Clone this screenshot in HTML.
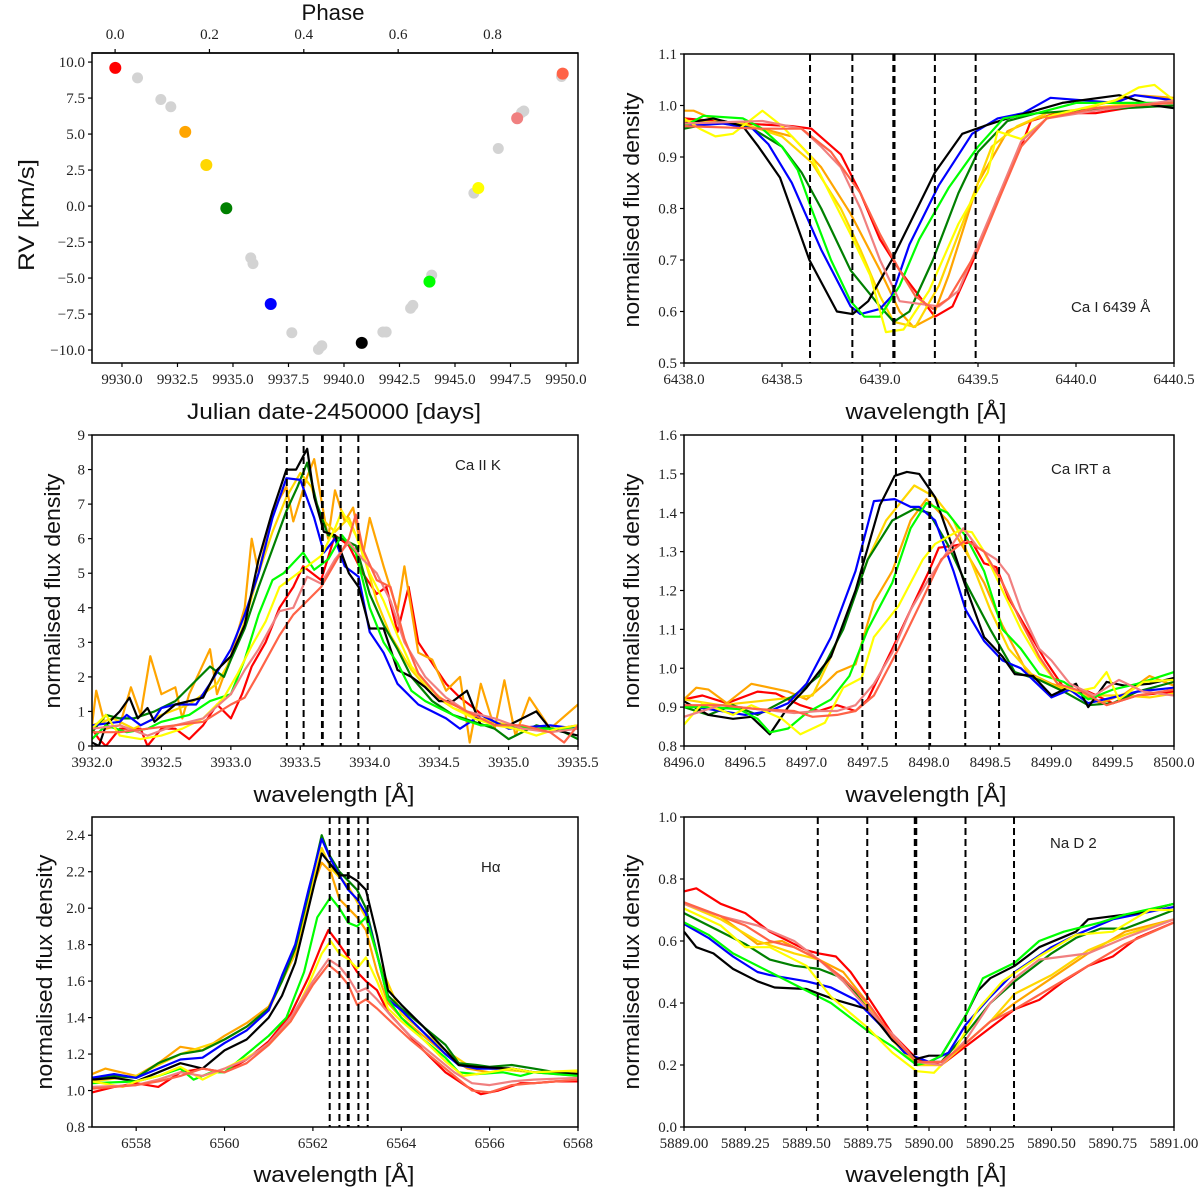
<!DOCTYPE html>
<html><head><meta charset="utf-8"><style>
html,body{margin:0;padding:0;background:#fff;}
svg{display:block;}
.tk{font-family:"Liberation Serif",serif;font-size:15px;fill:#222;}
.al{font-family:"Liberation Sans",sans-serif;font-size:22px;fill:#111;}
.pl{font-family:"Liberation Sans",sans-serif;font-size:15px;fill:#222;}
</style></head><body>
<svg id="fig" width="1200" height="1191" viewBox="0 0 1200 1191" xmlns="http://www.w3.org/2000/svg"></svg>
<script>
// ---- RV panel data ----
const rvGreyDates=[9930.7,9931.75,9932.2,9935.8,9935.9,9937.65,9938.85,9939.0,9941.75,9941.9,9943.0,9943.1,9943.95,9945.85,9946.95,9948.0,9948.1,9949.8];
const rvGreyVals=[8.9,7.4,6.9,-3.6,-4.0,-8.8,-9.95,-9.7,-8.75,-8.75,-7.1,-6.9,-4.8,0.9,4.0,6.5,6.6,9.0];
const specColors=["#ff0000","#ffa500","#ffd700","#008000","#0000ff","#000000","#00ff00","#ffff00","#f08080","#ff6347"];
const specNames=["red","orange","gold","green","blue","black","lime","yellow","lightcoral","tomato"];
const rvDates=[9929.7,9932.85,9933.8,9934.7,9936.7,9940.8,9943.85,9946.05,9947.8,9949.85];
const rvVals=[9.6,5.15,2.85,-0.15,-6.8,-9.5,-5.25,1.25,6.1,9.2];
const rvXTicks=[9930,9932.5,9935,9937.5,9940,9942.5,9945,9947.5,9950];
const rvYTicks=[-10,-7.5,-5,-2.5,0,2.5,5,7.5,10];
const phaseTicks=[0,0.2,0.4,0.6,0.8];

// ---- Ca I 6439 ----
const caI_red=[[6438,0.975],[6438.3,0.965],[6438.55,0.96],[6438.65,0.955],[6438.8,0.905],[6438.9,0.83],[6439.0,0.74],[6439.1,0.68],[6439.2,0.63],[6439.28,0.59],[6439.37,0.61],[6439.5,0.72],[6439.6,0.82],[6439.72,0.92],[6439.77,0.97],[6439.9,0.985],[6440.1,0.985],[6440.5,1.01]];
const caI_orange=[[6438,0.99],[6438.05,0.99],[6438.2,0.965],[6438.4,0.955],[6438.55,0.94],[6438.7,0.88],[6438.85,0.79],[6439.0,0.68],[6439.1,0.60],[6439.17,0.57],[6439.27,0.59],[6439.35,0.67],[6439.5,0.85],[6439.65,0.95],[6439.8,0.975],[6440,0.99],[6440.3,1.02],[6440.5,1.015]];
const caI_gold=[[6438,0.97],[6438.3,0.965],[6438.5,0.94],[6438.65,0.89],[6438.8,0.80],[6438.9,0.72],[6439.0,0.63],[6439.07,0.58],[6439.18,0.57],[6439.3,0.65],[6439.43,0.78],[6439.57,0.92],[6439.7,0.96],[6439.85,0.985],[6440.2,1.0],[6440.5,1.005]];
const caI_green=[[6438,0.955],[6438.2,0.97],[6438.35,0.955],[6438.5,0.92],[6438.6,0.87],[6438.7,0.80],[6438.85,0.68],[6439.0,0.61],[6439.07,0.58],[6439.15,0.60],[6439.27,0.70],[6439.4,0.83],[6439.5,0.91],[6439.65,0.97],[6439.8,0.985],[6440,0.99],[6440.5,1.0]];
const caI_blue=[[6438,0.96],[6438.2,0.965],[6438.35,0.955],[6438.43,0.925],[6438.55,0.85],[6438.7,0.72],[6438.85,0.61],[6438.9,0.595],[6439.0,0.605],[6439.06,0.63],[6439.15,0.73],[6439.3,0.845],[6439.47,0.945],[6439.6,0.975],[6439.73,0.985],[6439.87,1.015],[6440.2,1.005],[6440.3,1.02],[6440.5,1.01]];
const caI_black=[[6438,0.965],[6438.15,0.975],[6438.3,0.96],[6438.38,0.92],[6438.49,0.86],[6438.64,0.70],[6438.78,0.60],[6438.86,0.595],[6438.94,0.62],[6439.06,0.70],[6439.28,0.87],[6439.42,0.945],[6439.53,0.96],[6439.65,0.975],[6439.93,1.005],[6440.22,1.02],[6440.4,1.0],[6440.5,0.995]];
const caI_lime=[[6438,0.96],[6438.1,0.98],[6438.3,0.975],[6438.4,0.955],[6438.5,0.92],[6438.58,0.875],[6438.65,0.80],[6438.75,0.70],[6438.85,0.62],[6438.92,0.59],[6439.0,0.59],[6439.1,0.65],[6439.2,0.74],[6439.35,0.84],[6439.5,0.92],[6439.63,0.975],[6439.8,0.985],[6440,1.005],[6440.5,1.005]];
const caI_yellow=[[6438,0.975],[6438.08,0.955],[6438.16,0.94],[6438.25,0.945],[6438.4,0.99],[6438.5,0.96],[6438.65,0.90],[6438.85,0.75],[6438.95,0.67],[6439.03,0.56],[6439.12,0.565],[6439.25,0.64],[6439.4,0.77],[6439.55,0.87],[6439.6,0.95],[6439.72,0.935],[6439.87,0.98],[6440.2,1.01],[6440.32,1.035],[6440.4,1.04],[6440.5,1.01]];
const caI_lightcoral=[[6438,0.965],[6438.4,0.97],[6438.6,0.955],[6438.7,0.92],[6438.8,0.88],[6438.9,0.80],[6439.0,0.70],[6439.1,0.62],[6439.2,0.615],[6439.3,0.61],[6439.4,0.64],[6439.5,0.73],[6439.6,0.82],[6439.72,0.93],[6439.85,0.975],[6440.1,0.99],[6440.5,1.01]];
const caI_tomato=[[6438,0.96],[6438.4,0.955],[6438.6,0.955],[6438.75,0.91],[6438.9,0.83],[6439.0,0.75],[6439.1,0.68],[6439.18,0.63],[6439.27,0.605],[6439.35,0.625],[6439.5,0.72],[6439.62,0.83],[6439.72,0.92],[6439.85,0.975],[6440.1,0.995],[6440.5,1.005]];
const caI_lines=[6438.643,6438.859,6439.068,6439.074,6439.28,6439.488];
const caI_xticks=[6438.0,6438.5,6439.0,6439.5,6440.0,6440.5];
const caI_yticks=[0.5,0.6,0.7,0.8,0.9,1.0,1.1];

// ---- Ca II K ----
const caK_red=[[3932,0.5],[3932.05,0.2],[3932.1,0.0],[3932.2,0.5],[3932.35,0.5],[3932.4,0.0],[3932.5,0.5],[3932.6,0.5],[3932.7,0.2],[3932.8,0.6],[3932.9,1.2],[3933.0,0.8],[3933.08,1.5],[3933.15,2.3],[3933.25,3.0],[3933.35,4.0],[3933.45,4.6],[3933.52,5.2],[3933.65,4.8],[3933.75,6.1],[3933.85,5.8],[3933.95,5.0],[3934.05,4.4],[3934.12,4.6],[3934.2,3.3],[3934.28,4.6],[3934.35,3.0],[3934.45,2.4],[3934.55,1.8],[3934.65,1.4],[3934.75,1.1],[3934.9,0.6],[3935.05,0.6],[3935.2,0.5],[3935.35,0.5],[3935.5,0.6]];
const caK_orange=[[3932,0.6],[3932.03,1.6],[3932.1,0.5],[3932.2,0.6],[3932.28,1.7],[3932.35,0.9],[3932.42,2.6],[3932.5,1.5],[3932.6,1.7],[3932.65,0.8],[3932.7,1.5],[3932.85,2.8],[3932.9,1.5],[3933.0,2.6],[3933.1,4.0],[3933.15,6.0],[3933.2,5.0],[3933.3,6.8],[3933.4,7.5],[3933.45,6.5],[3933.55,7.8],[3933.6,8.3],[3933.7,6.0],[3933.75,7.4],[3933.82,6.5],[3933.88,6.9],[3933.95,5.5],[3934.0,6.6],[3934.1,5.2],[3934.2,3.9],[3934.25,5.2],[3934.35,2.7],[3934.45,2.5],[3934.55,1.6],[3934.65,2.0],[3934.72,0.1],[3934.8,1.8],[3934.9,0.5],[3934.97,1.9],[3935.05,0.3],[3935.15,1.4],[3935.25,0.8],[3935.3,0.5],[3935.5,1.2]];
const caK_gold=[[3932,0.6],[3932.15,0.8],[3932.3,0.5],[3932.5,0.9],[3932.7,1.2],[3932.9,1.8],[3933.0,2.5],[3933.1,3.6],[3933.2,5.0],[3933.3,6.2],[3933.4,7.2],[3933.5,7.9],[3933.58,7.5],[3933.65,6.6],[3933.75,6.2],[3933.85,6.6],[3933.95,5.6],[3934.05,4.2],[3934.15,3.2],[3934.3,2.2],[3934.45,1.5],[3934.6,1.1],[3934.8,0.8],[3935.0,0.6],[3935.25,0.5],[3935.5,0.5]];
const caK_green=[[3932,0.4],[3932.1,0.9],[3932.2,0.8],[3932.3,0.8],[3932.45,1.0],[3932.6,1.3],[3932.85,2.3],[3932.95,2.0],[3933.0,2.5],[3933.1,3.4],[3933.2,4.6],[3933.3,5.7],[3933.4,6.8],[3933.48,7.5],[3933.55,8.2],[3933.62,7.0],[3933.7,6.1],[3933.8,6.0],[3933.9,5.8],[3934.0,4.4],[3934.1,3.5],[3934.2,2.8],[3934.3,2.0],[3934.45,1.3],[3934.6,0.9],[3934.75,0.7],[3934.9,0.5],[3935.0,0.2],[3935.2,0.6],[3935.4,0.4],[3935.5,0.2]];
const caK_blue=[[3932,0.6],[3932.2,0.7],[3932.25,0.9],[3932.35,0.6],[3932.45,0.8],[3932.5,1.1],[3932.6,1.2],[3932.75,1.2],[3932.85,1.8],[3933.0,2.8],[3933.1,3.8],[3933.2,5.0],[3933.3,6.6],[3933.4,7.75],[3933.5,7.7],[3933.6,6.6],[3933.67,5.6],[3933.75,6.0],[3933.82,5.2],[3933.92,4.9],[3934.0,3.3],[3934.1,2.7],[3934.2,1.8],[3934.35,1.2],[3934.45,1.0],[3934.55,0.8],[3934.65,0.5],[3934.8,0.9],[3935.0,0.5],[3935.3,0.6],[3935.5,0.5]];
const caK_black=[[3932,0.1],[3932.05,0.0],[3932.1,0.6],[3932.2,1.0],[3932.27,1.4],[3932.33,0.8],[3932.4,1.1],[3932.45,0.7],[3932.6,1.2],[3932.7,1.3],[3932.8,1.4],[3932.9,2.2],[3933.0,2.6],[3933.1,3.5],[3933.2,5.4],[3933.3,6.8],[3933.4,8.0],[3933.47,8.0],[3933.55,8.6],[3933.6,7.2],[3933.67,6.2],[3933.75,6.1],[3933.85,5.0],[3933.92,4.6],[3934.0,3.4],[3934.1,3.4],[3934.2,2.2],[3934.3,2.0],[3934.4,1.7],[3934.5,1.3],[3934.6,1.3],[3934.7,1.6],[3934.8,0.6],[3935.0,0.6],[3935.2,1.0],[3935.3,0.5],[3935.5,0.3]];
const caK_lime=[[3932,0.2],[3932.1,0.6],[3932.25,0.4],[3932.4,0.5],[3932.5,0.7],[3932.7,0.9],[3932.85,1.3],[3933.0,1.5],[3933.1,2.5],[3933.2,3.8],[3933.3,4.8],[3933.38,5.0],[3933.45,5.3],[3933.52,5.6],[3933.6,5.1],[3933.7,5.4],[3933.8,6.1],[3933.9,5.6],[3934.0,4.0],[3934.1,3.0],[3934.2,2.4],[3934.3,1.6],[3934.4,1.3],[3934.5,1.1],[3934.65,0.8],[3934.8,0.6],[3935.0,0.6],[3935.2,0.5],[3935.5,0.5]];
const caK_yellow=[[3932,0.5],[3932.1,0.9],[3932.2,0.3],[3932.35,0.2],[3932.5,0.3],[3932.65,0.5],[3932.8,0.8],[3932.95,1.4],[3933.05,2.1],[3933.15,2.9],[3933.25,3.6],[3933.35,4.6],[3933.45,4.9],[3933.55,5.2],[3933.65,5.5],[3933.75,6.3],[3933.8,6.8],[3933.9,6.1],[3934.0,5.0],[3934.1,4.2],[3934.2,3.2],[3934.3,2.3],[3934.45,1.6],[3934.6,1.1],[3934.75,0.8],[3934.9,0.6],[3935.05,0.5],[3935.2,0.3],[3935.35,0.5],[3935.5,0.6]];
const caK_lightcoral=[[3932,0.5],[3932.2,0.6],[3932.4,0.3],[3932.6,0.6],[3932.8,0.8],[3933.0,1.5],[3933.1,2.2],[3933.2,2.8],[3933.35,3.9],[3933.45,4.0],[3933.55,4.9],[3933.65,4.7],[3933.75,5.4],[3933.85,5.9],[3933.95,5.4],[3934.05,5.0],[3934.15,4.2],[3934.25,3.0],[3934.4,2.0],[3934.55,1.4],[3934.7,1.0],[3934.9,0.8],[3935.1,0.5],[3935.3,0.4],[3935.5,0.5]];
const caK_tomato=[[3932,0.4],[3932.2,0.4],[3932.4,0.5],[3932.6,0.6],[3932.8,0.7],[3933.0,1.2],[3933.1,1.4],[3933.2,2.1],[3933.35,3.2],[3933.45,3.8],[3933.55,4.2],[3933.65,4.6],[3933.75,5.3],[3933.85,6.0],[3933.9,6.7],[3933.95,5.7],[3934.05,4.8],[3934.15,4.6],[3934.25,3.1],[3934.35,2.1],[3934.5,1.4],[3934.7,1.0],[3934.9,0.6],[3935.1,0.6],[3935.3,0.4],[3935.4,0.1],[3935.5,0.6]];
const caK_lines=[3933.403,3933.524,3933.656,3933.662,3933.791,3933.918];
const caK_xticks=[3932.0,3932.5,3933.0,3933.5,3934.0,3934.5,3935.0,3935.5];
const caK_yticks=[0,1,2,3,4,5,6,7,8,9];

// ---- Ca IRT a ----
const irt_red=[[8496,0.92],[8496.15,0.93],[8496.35,0.91],[8496.6,0.94],[8496.75,0.935],[8496.95,0.905],[8497.1,0.89],[8497.25,0.905],[8497.4,0.89],[8497.5,0.92],[8497.7,1.05],[8497.85,1.15],[8498.0,1.25],[8498.08,1.31],[8498.2,1.315],[8498.35,1.325],[8498.45,1.27],[8498.55,1.26],[8498.65,1.18],[8498.8,1.10],[8498.95,1.02],[8499.1,0.95],[8499.3,0.94],[8499.5,0.91],[8499.7,0.93],[8500,0.94]];
const irt_orange=[[8496,0.92],[8496.1,0.95],[8496.2,0.945],[8496.35,0.91],[8496.55,0.96],[8496.7,0.95],[8496.85,0.94],[8497.0,0.92],[8497.15,0.96],[8497.25,0.99],[8497.4,1.01],[8497.55,1.17],[8497.7,1.25],[8497.85,1.38],[8497.98,1.435],[8498.15,1.38],[8498.3,1.30],[8498.45,1.22],[8498.6,1.11],[8498.8,0.99],[8499.0,0.96],[8499.2,0.94],[8499.4,0.91],[8499.6,0.935],[8499.8,0.98],[8500,0.955]];
const irt_gold=[[8496,0.92],[8496.3,0.905],[8496.6,0.915],[8496.9,0.925],[8497.05,0.93],[8497.2,1.03],[8497.35,1.15],[8497.5,1.28],[8497.65,1.38],[8497.88,1.47],[8498.05,1.44],[8498.2,1.38],[8498.35,1.27],[8498.5,1.15],[8498.65,1.05],[8498.85,0.98],[8499.05,0.95],[8499.3,0.93],[8499.6,0.93],[8499.8,0.925],[8500,0.935]];
const irt_green=[[8496,0.9],[8496.2,0.88],[8496.4,0.905],[8496.6,0.88],[8496.75,0.905],[8496.9,0.93],[8497.1,0.98],[8497.3,1.10],[8497.5,1.28],[8497.7,1.38],[8497.88,1.41],[8498.0,1.40],[8498.15,1.32],[8498.3,1.22],[8498.5,1.10],[8498.7,0.99],[8498.9,0.97],[8499.1,0.94],[8499.3,0.905],[8499.5,0.91],[8499.7,0.94],[8500,0.965]];
const irt_blue=[[8496,0.905],[8496.2,0.895],[8496.5,0.88],[8496.7,0.89],[8496.85,0.91],[8497.0,0.96],[8497.2,1.08],[8497.4,1.25],[8497.55,1.43],[8497.72,1.435],[8497.85,1.415],[8497.92,1.415],[8498.05,1.38],[8498.2,1.25],[8498.3,1.15],[8498.45,1.07],[8498.6,1.02],[8498.75,1.0],[8499.0,0.925],[8499.15,0.945],[8499.3,0.91],[8499.5,0.925],[8499.7,0.94],[8500,0.95]];
const irt_black=[[8496,0.915],[8496.2,0.88],[8496.4,0.87],[8496.55,0.875],[8496.7,0.83],[8496.85,0.90],[8497.0,0.95],[8497.2,1.03],[8497.4,1.20],[8497.6,1.42],[8497.72,1.495],[8497.82,1.505],[8497.92,1.50],[8498.05,1.44],[8498.15,1.35],[8498.3,1.21],[8498.45,1.08],[8498.6,1.03],[8498.7,0.985],[8498.85,0.98],[8499.0,0.93],[8499.2,0.96],[8499.3,0.90],[8499.45,0.965],[8499.6,0.955],[8499.8,0.96],[8500,0.975]];
const irt_lime=[[8496,0.9],[8496.2,0.9],[8496.45,0.895],[8496.6,0.87],[8496.7,0.835],[8496.85,0.845],[8497.0,0.885],[8497.2,0.92],[8497.35,0.98],[8497.5,1.10],[8497.7,1.22],[8497.85,1.36],[8497.98,1.425],[8498.15,1.40],[8498.3,1.34],[8498.45,1.25],[8498.6,1.10],[8498.75,1.05],[8498.9,0.985],[8499.1,0.965],[8499.3,0.92],[8499.5,0.945],[8499.7,0.96],[8500,0.99]];
const irt_yellow=[[8496,0.855],[8496.15,0.91],[8496.4,0.88],[8496.55,0.905],[8496.8,0.87],[8496.95,0.83],[8497.15,0.86],[8497.3,0.95],[8497.45,0.975],[8497.55,1.08],[8497.75,1.16],[8497.95,1.28],[8498.05,1.32],[8498.25,1.355],[8498.35,1.35],[8498.45,1.30],[8498.6,1.20],[8498.75,1.10],[8498.9,1.02],[8499.05,0.96],[8499.2,0.94],[8499.35,0.95],[8499.45,0.99],[8499.55,0.92],[8499.75,0.965],[8500,0.97]];
const irt_lightcoral=[[8496,0.875],[8496.3,0.905],[8496.6,0.895],[8496.9,0.885],[8497.1,0.89],[8497.25,0.89],[8497.4,0.905],[8497.55,0.96],[8497.7,1.04],[8497.85,1.15],[8498.0,1.23],[8498.15,1.30],[8498.28,1.36],[8498.4,1.31],[8498.55,1.28],[8498.65,1.24],[8498.75,1.15],[8498.9,1.05],[8499.0,1.02],[8499.15,0.96],[8499.35,0.93],[8499.55,0.97],[8499.75,0.94],[8500,0.93]];
const irt_tomato=[[8496,0.905],[8496.3,0.905],[8496.6,0.895],[8496.9,0.89],[8497.05,0.875],[8497.25,0.88],[8497.4,0.89],[8497.55,0.93],[8497.75,1.05],[8497.95,1.18],[8498.1,1.28],[8498.3,1.33],[8498.45,1.30],[8498.6,1.22],[8498.75,1.12],[8498.9,1.03],[8499.05,0.96],[8499.25,0.94],[8499.45,0.905],[8499.7,0.93],[8500,0.945]];
const irt_lines=[8497.456,8497.73,8498.003,8498.009,8498.296,8498.572];
const irt_xticks=[8496.0,8496.5,8497.0,8497.5,8498.0,8498.5,8499.0,8499.5,8500.0];
const irt_yticks=[0.8,0.9,1.0,1.1,1.2,1.3,1.4,1.5,1.6];

// ---- H alpha ----
const ha_red=[[6557,0.99],[6557.5,1.02],[6558,1.04],[6558.5,1.02],[6559,1.1],[6559.5,1.12],[6560,1.1],[6560.5,1.17],[6561,1.27],[6561.5,1.42],[6561.9,1.62],[6562.2,1.8],[6562.35,1.88],[6562.6,1.8],[6562.8,1.73],[6563.0,1.65],[6563.2,1.6],[6563.45,1.55],[6563.7,1.43],[6564.0,1.35],[6564.5,1.22],[6565.0,1.1],[6565.5,1.02],[6565.8,0.98],[6566.2,1.0],[6566.7,1.04],[6567,1.04],[6567.5,1.05],[6568,1.05]];
const ha_orange=[[6557,1.09],[6557.3,1.12],[6558,1.08],[6558.5,1.15],[6559,1.24],[6559.5,1.22],[6560,1.3],[6560.5,1.37],[6561,1.46],[6561.3,1.6],[6561.6,1.75],[6561.9,2.05],[6562.2,2.25],[6562.4,2.2],[6562.6,2.05],[6562.8,2.0],[6563.0,1.95],[6563.2,1.88],[6563.45,1.65],[6563.7,1.48],[6564.0,1.4],[6564.5,1.3],[6565.0,1.2],[6565.5,1.12],[6566,1.1],[6566.5,1.12],[6567,1.1],[6568,1.08]];
const ha_gold=[[6557,1.05],[6558,1.08],[6558.5,1.14],[6559,1.2],[6560,1.28],[6560.5,1.35],[6561,1.44],[6561.6,1.76],[6562.2,2.33],[6562.4,2.22],[6562.8,2.12],[6563.2,1.95],[6563.5,1.7],[6564,1.42],[6565,1.22],[6565.5,1.14],[6566,1.12],[6567,1.1],[6568,1.1]];
const ha_green=[[6557,1.07],[6557.5,1.08],[6558,1.07],[6558.5,1.15],[6559,1.2],[6559.5,1.22],[6560,1.28],[6560.5,1.35],[6561,1.45],[6561.3,1.6],[6561.6,1.78],[6561.9,2.08],[6562.2,2.4],[6562.35,2.3],[6562.6,2.2],[6562.8,2.15],[6563.0,2.1],[6563.2,2.0],[6563.45,1.75],[6563.7,1.52],[6564.0,1.45],[6564.5,1.35],[6565.0,1.25],[6565.3,1.15],[6565.7,1.14],[6566.0,1.13],[6566.5,1.14],[6567.0,1.12],[6567.5,1.1],[6568,1.09]];
const ha_blue=[[6557,1.07],[6557.5,1.09],[6558,1.07],[6558.5,1.12],[6559,1.17],[6559.5,1.18],[6560,1.26],[6560.5,1.33],[6561,1.44],[6561.3,1.63],[6561.6,1.8],[6561.9,2.1],[6562.2,2.38],[6562.4,2.27],[6562.6,2.18],[6562.8,2.1],[6563.0,2.05],[6563.2,1.97],[6563.45,1.75],[6563.7,1.5],[6564.0,1.44],[6564.5,1.32],[6565.0,1.2],[6565.3,1.14],[6565.7,1.12],[6566,1.12],[6566.5,1.12],[6567,1.1],[6568,1.09]];
const ha_black=[[6557,1.06],[6557.5,1.07],[6558,1.05],[6558.5,1.1],[6559,1.15],[6559.5,1.12],[6560,1.22],[6560.5,1.28],[6561,1.4],[6561.3,1.52],[6561.6,1.7],[6561.9,2.0],[6562.2,2.3],[6562.4,2.24],[6562.6,2.18],[6562.8,2.18],[6563.0,2.15],[6563.2,2.1],[6563.45,1.85],[6563.7,1.55],[6564.0,1.47],[6564.5,1.35],[6565.0,1.22],[6565.3,1.14],[6565.7,1.13],[6566.5,1.12],[6567,1.1],[6568,1.09]];
const ha_lime=[[6557,1.04],[6558,1.05],[6558.5,1.08],[6559,1.12],[6559.3,1.06],[6559.7,1.1],[6560,1.1],[6560.5,1.2],[6561,1.3],[6561.4,1.4],[6561.8,1.65],[6562.1,1.95],[6562.4,2.06],[6562.6,2.0],[6562.8,1.92],[6563.0,1.9],[6563.2,1.95],[6563.45,1.75],[6563.7,1.5],[6564.0,1.4],[6564.5,1.28],[6565.0,1.18],[6565.3,1.1],[6565.7,1.09],[6566.3,1.1],[6566.7,1.08],[6567,1.1],[6568,1.08]];
const ha_yellow=[[6557,1.05],[6557.7,1.02],[6558,1.05],[6558.5,1.08],[6559,1.13],[6559.5,1.06],[6560,1.12],[6560.5,1.18],[6561,1.25],[6561.5,1.38],[6561.9,1.58],[6562.2,1.75],[6562.4,1.82],[6562.6,1.75],[6562.8,1.72],[6563.0,1.67],[6563.2,1.73],[6563.45,1.6],[6563.7,1.45],[6564.0,1.38],[6564.5,1.28],[6565.0,1.16],[6565.4,1.08],[6566,1.1],[6566.5,1.12],[6567,1.1],[6568,1.11]];
const ha_lightcoral=[[6557,1.02],[6558,1.03],[6558.5,1.06],[6559,1.1],[6559.5,1.08],[6560,1.12],[6560.5,1.17],[6561,1.26],[6561.5,1.4],[6562.0,1.6],[6562.35,1.72],[6562.6,1.68],[6562.8,1.62],[6563.0,1.54],[6563.2,1.56],[6563.45,1.5],[6563.8,1.4],[6564.2,1.3],[6564.7,1.2],[6565.2,1.1],[6565.6,1.04],[6566.0,1.03],[6566.5,1.05],[6567,1.06],[6568,1.07]];
const ha_tomato=[[6557,1.01],[6558,1.03],[6558.5,1.05],[6559,1.08],[6559.5,1.12],[6560,1.1],[6560.5,1.15],[6561,1.25],[6561.5,1.38],[6562.0,1.58],[6562.35,1.69],[6562.6,1.64],[6562.8,1.58],[6563.0,1.47],[6563.2,1.5],[6563.45,1.45],[6563.8,1.37],[6564.2,1.28],[6564.7,1.18],[6565.2,1.08],[6565.6,1.0],[6566.0,0.99],[6566.5,1.03],[6567,1.04],[6568,1.06]];
const ha_lines=[6562.38,6562.60,6562.79,6562.81,6563.03,6563.24];
const ha_xticks=[6558,6560,6562,6564,6566,6568];
const ha_yticks=[0.8,1.0,1.2,1.4,1.6,1.8,2.0,2.2,2.4];

// ---- Na D2 ----
const na_red=[[5889,0.76],[5889.05,0.77],[5889.15,0.72],[5889.25,0.69],[5889.35,0.63],[5889.5,0.57],[5889.55,0.56],[5889.62,0.55],[5889.68,0.5],[5889.75,0.42],[5889.85,0.3],[5889.95,0.22],[5890.05,0.2],[5890.15,0.26],[5890.2,0.29],[5890.3,0.35],[5890.35,0.38],[5890.45,0.41],[5890.55,0.47],[5890.65,0.52],[5890.75,0.55],[5890.85,0.61],[5891.0,0.66]];
const na_orange=[[5889,0.72],[5889.15,0.68],[5889.3,0.59],[5889.4,0.6],[5889.55,0.54],[5889.65,0.5],[5889.75,0.4],[5889.85,0.29],[5889.95,0.2],[5890.05,0.2],[5890.15,0.27],[5890.25,0.34],[5890.35,0.4],[5890.5,0.48],[5890.65,0.56],[5890.8,0.63],[5891.0,0.67]];
const na_gold=[[5889,0.72],[5889.15,0.67],[5889.3,0.6],[5889.45,0.56],[5889.55,0.54],[5889.65,0.48],[5889.75,0.39],[5889.85,0.28],[5889.95,0.2],[5890.05,0.2],[5890.15,0.27],[5890.25,0.34],[5890.35,0.43],[5890.5,0.49],[5890.65,0.57],[5890.8,0.62],[5891.0,0.67]];
const na_green=[[5889,0.69],[5889.1,0.65],[5889.25,0.59],[5889.35,0.54],[5889.45,0.52],[5889.55,0.51],[5889.65,0.48],[5889.75,0.38],[5889.85,0.29],[5889.95,0.21],[5890.05,0.21],[5890.15,0.3],[5890.25,0.4],[5890.35,0.47],[5890.5,0.56],[5890.6,0.61],[5890.7,0.64],[5890.8,0.64],[5891.0,0.7]];
const na_blue=[[5889,0.655],[5889.1,0.61],[5889.2,0.55],[5889.3,0.5],[5889.35,0.49],[5889.5,0.47],[5889.6,0.45],[5889.7,0.41],[5889.8,0.33],[5889.9,0.24],[5890.0,0.21],[5890.08,0.24],[5890.15,0.33],[5890.25,0.42],[5890.35,0.5],[5890.5,0.58],[5890.6,0.62],[5890.75,0.67],[5891.0,0.71]];
const na_black=[[5889,0.63],[5889.05,0.58],[5889.12,0.56],[5889.2,0.51],[5889.3,0.47],[5889.37,0.45],[5889.5,0.445],[5889.55,0.43],[5889.62,0.41],[5889.75,0.38],[5889.85,0.28],[5889.95,0.22],[5890.0,0.23],[5890.05,0.23],[5890.15,0.36],[5890.2,0.44],[5890.25,0.48],[5890.35,0.52],[5890.45,0.58],[5890.6,0.63],[5890.65,0.67],[5890.75,0.68],[5890.85,0.69],[5891.0,0.72]];
const na_lime=[[5889,0.66],[5889.1,0.62],[5889.2,0.56],[5889.35,0.5],[5889.5,0.44],[5889.6,0.4],[5889.75,0.31],[5889.85,0.26],[5889.95,0.2],[5890.0,0.21],[5890.05,0.23],[5890.15,0.36],[5890.22,0.48],[5890.35,0.53],[5890.45,0.6],[5890.55,0.63],[5890.7,0.66],[5890.8,0.685],[5891.0,0.72]];
const na_yellow=[[5889,0.705],[5889.15,0.65],[5889.25,0.58],[5889.35,0.58],[5889.5,0.52],[5889.6,0.42],[5889.75,0.32],[5889.85,0.24],[5889.95,0.18],[5890.02,0.175],[5890.1,0.24],[5890.2,0.38],[5890.3,0.47],[5890.45,0.55],[5890.6,0.62],[5890.75,0.63],[5890.9,0.7],[5891.0,0.7]];
const na_lightcoral=[[5889,0.72],[5889.15,0.68],[5889.3,0.65],[5889.45,0.6],[5889.55,0.54],[5889.65,0.47],[5889.75,0.38],[5889.85,0.3],[5889.95,0.21],[5890.05,0.2],[5890.15,0.28],[5890.25,0.4],[5890.35,0.48],[5890.45,0.54],[5890.55,0.55],[5890.65,0.56],[5890.8,0.61],[5891.0,0.67]];
const na_tomato=[[5889,0.725],[5889.15,0.68],[5889.25,0.65],[5889.35,0.6],[5889.45,0.58],[5889.55,0.54],[5889.65,0.48],[5889.75,0.4],[5889.85,0.29],[5889.95,0.21],[5890.05,0.21],[5890.15,0.27],[5890.25,0.34],[5890.35,0.38],[5890.5,0.45],[5890.65,0.52],[5890.8,0.59],[5891.0,0.66]];
const na_lines=[5889.546,5889.748,5889.942,5889.948,5890.149,5890.347];
const na_xticks=[5889.0,5889.25,5889.5,5889.75,5890.0,5890.25,5890.5,5890.75,5891.0];
const na_yticks=[0.0,0.2,0.4,0.6,0.8,1.0];

const NS="http://www.w3.org/2000/svg";
const svg=document.getElementById('fig');
function mk(tag,attrs,parent){const e=document.createElementNS(NS,tag);for(const k in attrs)e.setAttribute(k,attrs[k]);(parent||svg).appendChild(e);return e;}
function txt(s,x,y,cls,anchor,parent){const t=mk('text',{x:x,y:y,class:cls,'text-anchor':anchor||'middle'},parent);t.textContent=s;return t;}
function fmt(v,d){let s=v.toFixed(d);if(v<0)s='\u2212'+s.slice(1);return s;}

function panel(name,box,xlim,ylim,xticks,yticks,xd,yd,series,lines,label,lpos,xlabel){
  const g=mk('g',{});
  
  
  const sx=v=>box.L+(v-xlim[0])/(xlim[1]-xlim[0])*(box.R-box.L);
  const sy=v=>box.B-(v-ylim[0])/(ylim[1]-ylim[0])*(box.B-box.T);
  const cid='clip-'+name;
  const cp=mk('clipPath',{id:cid},g);mk('rect',{x:box.L,y:box.T,width:box.R-box.L,height:box.B-box.T},cp);
  const sg=mk('g',{'clip-path':'url(#'+cid+')'},g);
  series.forEach((s,i)=>{
    const p=mk('polyline',{points:s.pts.map(q=>sx(q[0]).toFixed(1)+','+sy(q[1]).toFixed(1)).join(' '),fill:'none',stroke:s.color,'stroke-width':2.2,'stroke-linejoin':'round'},sg);
    
    
  });
  (lines||[]).forEach(v=>{
    const l=mk('line',{x1:sx(v),x2:sx(v),y1:box.T,y2:box.B,stroke:'#000','stroke-width':2,'stroke-dasharray':'7,4'},sg);
    
    
  });
  if(label){const t=txt(label,lpos[0],lpos[1],'pl','start',g);}
  const fr=mk('rect',{x:box.L,y:box.T,width:box.R-box.L,height:box.B-box.T,fill:'none',stroke:'#000','stroke-width':1.5},g);
  
  
  xticks.forEach(v=>{const x=sx(v);mk('line',{x1:x,x2:x,y1:box.B,y2:box.B+4,stroke:'#000','stroke-width':1.2},g);
    const t=txt(fmt(v,xd),x,box.B+21,'tk','middle',g);});
  yticks.forEach(v=>{const y=sy(v);mk('line',{x1:box.L-4,x2:box.L,y1:y,y2:y,stroke:'#000','stroke-width':1.2},g);
    const t=txt(fmt(v,yd),box.L-7,y+5,'tk','end',g);});
  return {sx,sy,g};
}
function spec(prefix){return specNames.map((n,i)=>({name:n,color:specColors[i],pts:window[prefix+n]}));}
// expose arrays to window lookup
const SERIES={caI_:{red:caI_red,orange:caI_orange,gold:caI_gold,green:caI_green,blue:caI_blue,black:caI_black,lime:caI_lime,yellow:caI_yellow,lightcoral:caI_lightcoral,tomato:caI_tomato},
caK_:{red:caK_red,orange:caK_orange,gold:caK_gold,green:caK_green,blue:caK_blue,black:caK_black,lime:caK_lime,yellow:caK_yellow,lightcoral:caK_lightcoral,tomato:caK_tomato},
irt_:{red:irt_red,orange:irt_orange,gold:irt_gold,green:irt_green,blue:irt_blue,black:irt_black,lime:irt_lime,yellow:irt_yellow,lightcoral:irt_lightcoral,tomato:irt_tomato},
ha_:{red:ha_red,orange:ha_orange,gold:ha_gold,green:ha_green,blue:ha_blue,black:ha_black,lime:ha_lime,yellow:ha_yellow,lightcoral:ha_lightcoral,tomato:ha_tomato},
na_:{red:na_red,orange:na_orange,gold:na_gold,green:na_green,blue:na_blue,black:na_black,lime:na_lime,yellow:na_yellow,lightcoral:na_lightcoral,tomato:na_tomato}};
function specs(p){return specNames.map((n,i)=>({name:n,color:specColors[i],pts:SERIES[p][n]}));}

const LB={L:92,R:578}, RB={L:684,R:1174};
// RV panel
const rv=panel('rv-curve-panel',{L:92,R:578,T:53,B:363},[9928.65,9950.54],[-10.9,10.63],rvXTicks,rvYTicks,1,1,[],null,null,null);
rvGreyDates.forEach((d,i)=>{const c=mk('circle',{cx:rv.sx(d),cy:rv.sy(rvGreyVals[i]),r:5.5,fill:'#d3d3d3'},rv.g);
  
  });
rvDates.forEach((d,i)=>{const c=mk('circle',{cx:rv.sx(d),cy:rv.sy(rvVals[i]),r:6,fill:specColors[i]},rv.g);
  
  });
// phase axis
const phase0Date=9929.69, periodDays=21.25;
mk('line',{x1:92,x2:578,y1:53,y2:53,stroke:'#000','stroke-width':1.5},rv.g);
phaseTicks.forEach(p=>{const x=rv.sx(phase0Date+p*periodDays);mk('line',{x1:x,x2:x,y1:49,y2:53,stroke:'#000','stroke-width':1.2},rv.g);
  const t=txt(p.toFixed(1),x,39,'tk','middle',rv.g);});

panel('ca-i-6439-panel',{L:684,R:1174,T:54,B:363},[6438,6440.5],[0.5,1.1],caI_xticks,caI_yticks,1,1,specs('caI_'),caI_lines,'Ca I 6439 Å',[1071,312]);
panel('ca-ii-k-panel',{L:92,R:578,T:435,B:746},[3932,3935.5],[0,9],caK_xticks,caK_yticks,1,0,specs('caK_'),caK_lines,'Ca II K',[455,470]);
panel('ca-irt-a-panel',{L:684,R:1174,T:435,B:746},[8496,8500],[0.8,1.6],irt_xticks,irt_yticks,1,1,specs('irt_'),irt_lines,'Ca IRT a',[1051,474]);
panel('h-alpha-panel',{L:92,R:578,T:817,B:1127},[6557,6568],[0.8,2.5],ha_xticks,ha_yticks,0,1,specs('ha_'),ha_lines,'Hα',[481,872]);
panel('na-d2-panel',{L:684,R:1174,T:817,B:1127},[5889,5891],[0,1],na_xticks,na_yticks,2,1,specs('na_'),na_lines,'Na D 2',[1050,848]);

// axis labels
function alab(s,x,y,rot,len,name){const t=txt(s,x,y,'al','middle');if(rot)t.setAttribute('transform','rotate(-90 '+x+' '+y+')');
  t.setAttribute('textLength',len);t.setAttribute('lengthAdjust','spacingAndGlyphs');
  
  }
alab('Phase',333,20,false,63,'phase-axis-title');
alab('RV [km/s]',34,215,true,112,'rv-y-axis-title');
alab('Julian date-2450000 [days]',334,419,false,294,'date-x-axis-title');
alab('normalised flux density',639,210,true,235,'ca-i-y-axis-title');
alab('wavelength [Å]',926,419,false,161,'ca-i-x-axis-title');
alab('normalised flux density',60,591,true,235,'ca-ii-k-y-axis-title');
alab('wavelength [Å]',334,802,false,161,'ca-ii-k-x-axis-title');
alab('normalised flux density',639,591,true,235,'ca-irt-y-axis-title');
alab('wavelength [Å]',926,802,false,161,'ca-irt-x-axis-title');
alab('normalised flux density',52,972,true,235,'h-alpha-y-axis-title');
alab('wavelength [Å]',334,1182,false,161,'h-alpha-x-axis-title');
alab('normalised flux density',639,972,true,235,'na-d2-y-axis-title');
alab('wavelength [Å]',926,1182,false,161,'na-d2-x-axis-title');
</script>
</body></html>
